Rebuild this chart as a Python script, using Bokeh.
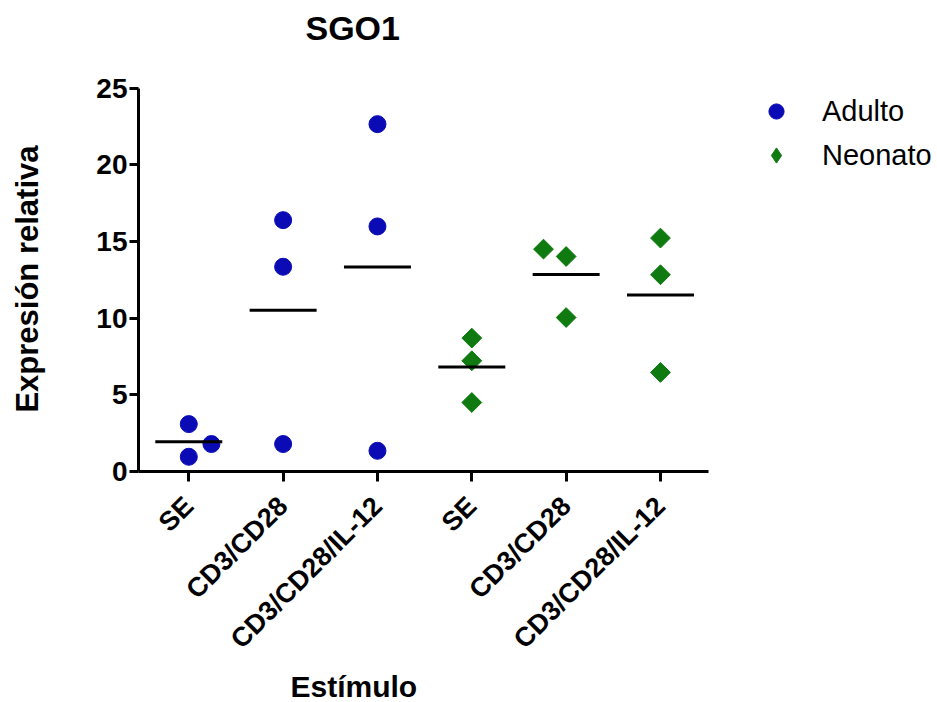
import numpy as np
from bokeh.plotting import figure
from bokeh.models import Range1d, FixedTicker, Legend, LegendItem, Title, Label
from bokeh.embed import file_html
from bokeh.resources import INLINE

# ---- data ----
categories = ["SE", "CD3/CD28", "CD3/CD28/IL-12", "SE", "CD3/CD28", "CD3/CD28/IL-12"]
positions = [1, 2, 3, 4, 5, 6]

adulto_group = [1, 1, 1, 2, 2, 2, 3, 3, 3]
adulto_values = [3.09, 0.96, 1.79, 16.39, 13.35, 1.79, 22.65, 15.98, 1.35]
adulto_jitter = [0, 0, 0.24, 0, 0, 0, 0, 0, 0]

neonato_group = [4, 4, 4, 5, 5, 5, 6, 6, 6]
neonato_values = [8.70, 7.22, 4.50, 14.50, 14.02, 10.04, 15.22, 12.83, 6.46]
neonato_jitter = [0, 0, 0, -0.24, 0, 0, 0, 0, 0]

y_ticks = [0, 5, 10, 15, 20, 25]

BLUE = "#0b0bb5"
GREEN = "#0e7a10"
FONT = "Liberation Sans"

W, H = 935, 702
LEFT, BOTTOM_Y = 138, 471           # frame left / frame bottom (px)
PX_X, PX_Y = 94.34, 15.336          # px per data unit
x0 = 0.467
x1 = x0 + (W - LEFT) / PX_X
y1 = BOTTOM_Y / PX_Y

p = figure(width=W, height=H, output_backend="svg", toolbar_location=None,
           x_range=Range1d(x0, x1), y_range=Range1d(0, y1),
           min_border_left=LEFT, min_border_right=0, min_border_top=0,
           min_border_bottom=H - BOTTOM_Y)

p.outline_line_color = None
p.grid.visible = False
p.background_fill_color = "white"
p.border_fill_color = "white"

# points
ax = [g + j for g, j in zip(adulto_group, adulto_jitter)]
nx = [g + j for g, j in zip(neonato_group, neonato_jitter)]
r_ad = p.scatter(ax, adulto_values, marker="circle", size=17, fill_color=BLUE, line_color=BLUE)
# diamond copy (hidden under the rotated squares) used for the legend swatch
r_ne_leg = p.scatter(nx, neonato_values, marker="diamond", size=10,
                     fill_color=GREEN, line_color=GREEN)
r_ne = p.scatter(nx, neonato_values, marker="square", size=14, angle=np.pi / 4,
                 fill_color=GREEN, line_color=GREEN)

# means
groups = np.array(adulto_group + neonato_group)
vals = np.array(adulto_values + neonato_values)
means = [vals[groups == g].mean() for g in positions]
half = 0.355
p.segment(x0=[g - half for g in positions], x1=[g + half for g in positions],
          y0=means, y1=means, line_color="black", line_width=3)

# axes
for ax_ in (p.xaxis, p.yaxis):
    ax_.axis_line_width = 3
    ax_.axis_line_color = "black"
    ax_.major_tick_line_width = 3
    ax_.major_tick_line_color = "black"
    ax_.major_tick_in = 0
    ax_.minor_tick_line_color = None
    ax_.major_label_text_font = FONT
    ax_.major_label_text_font_style = "bold"
    ax_.major_label_text_color = "black"

p.xaxis.bounds = (x0, 6.509)
p.xaxis.ticker = FixedTicker(ticks=positions)
p.xaxis.major_label_overrides = {pos: lab for pos, lab in zip(positions, categories)}
p.xaxis.major_label_orientation = np.pi / 4
p.xaxis.major_label_text_font_size = "27px"
p.xaxis.major_tick_out = 10
p.xaxis.major_label_standoff = 20

p.yaxis.bounds = (0, 25)
p.yaxis.ticker = FixedTicker(ticks=y_ticks)
p.yaxis.major_label_text_font_size = "28px"
p.yaxis.major_tick_out = 9
p.yaxis.major_label_standoff = 2
# trailing no-break spaces shift the label so it is centred on the 0-25 axis
p.yaxis.axis_label = "Expresión relativa" + "\u00a0" * 10
p.yaxis.axis_label_text_font = FONT
p.yaxis.axis_label_text_font_style = "bold"
p.yaxis.axis_label_text_font_size = "31px"
p.yaxis.axis_label_text_color = "black"
p.yaxis.axis_label_standoff = 48

p.add_layout(Title(text="Estímulo", align="left", offset=152, standoff=0, text_font=FONT,
                   text_font_size="30px", text_font_style="bold", text_color="black"), "below")

p.add_layout(Label(x=167, y=444, x_units="screen", y_units="screen", text="SGO1",
                   text_font=FONT, text_font_size="34px", text_font_style="bold",
                   text_color="black", text_align="left", text_baseline="alphabetic"))

legend = Legend(items=[LegendItem(label="Adulto", renderers=[r_ad]),
                       LegendItem(label="Neonato", renderers=[r_ne_leg])],
                location=(619, 294), glyph_width=38, glyph_height=44, label_height=44,
                spacing=0, padding=0, margin=0, label_standoff=27,
                label_text_font=FONT, label_text_font_size="29px", label_text_color="black",
                border_line_color=None, background_fill_alpha=0)
p.add_layout(legend)

open("out.html", "w").write(file_html(p, INLINE))
